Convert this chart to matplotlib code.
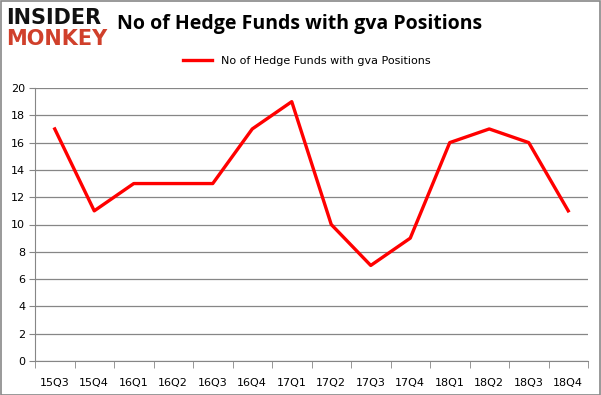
import matplotlib
matplotlib.use("Agg")
import matplotlib.pyplot as plt
from matplotlib.patches import Rectangle

categories = ["15Q3", "15Q4", "16Q1", "16Q2", "16Q3", "16Q4", "17Q1", "17Q2",
              "17Q3", "17Q4", "18Q1", "18Q2", "18Q3", "18Q4"]
values = [17, 11, 13, 13, 13, 17, 19, 10, 7, 9, 16, 17, 16, 11]
yticks = [0, 2, 4, 6, 8, 10, 12, 14, 16, 18, 20]
series_name = "No of Hedge Funds with gva Positions"
title = "No of Hedge Funds with gva Positions"

fig = plt.figure(figsize=(6.01, 3.95), dpi=100)
fig.patches.append(Rectangle((0.001, 0.001), 0.997, 0.996, transform=fig.transFigure,
                             fill=False, edgecolor="#888888", linewidth=1.2))

ax = fig.add_axes([35/601, 1 - 361/395, (588 - 35)/601, (361 - 88)/395])
x = list(range(len(categories)))
ax.plot(x, values, color="#ff0000", linewidth=2.4, label=series_name)
ax.set_xlim(-0.5, len(categories) - 0.5)
ax.set_ylim(0, 20)
ax.set_yticks(yticks)
ax.set_yticklabels([str(v) for v in yticks], fontsize=8, family="DejaVu Sans")
ax.set_xticks(x)
ax.set_xticklabels(categories, fontsize=8, family="DejaVu Sans")
ax.tick_params(axis="x", length=0, pad=12)
ax.set_xticks([i - 0.5 for i in range(len(categories) + 1)], minor=True)
ax.tick_params(axis="x", which="minor", length=5, color="#868686", direction="out")
ax.tick_params(axis="y", length=4, color="#868686", pad=3)
ax.grid(axis="y", color="#868686", linewidth=0.9)
ax.set_axisbelow(True)
for s in ["top", "right"]:
    ax.spines[s].set_visible(False)
ax.spines["left"].set_color("#868686")
ax.spines["bottom"].set_color("#868686")

leg = fig.legend(loc="center", bbox_to_anchor=(0.5 + 0.01, 1 - 61/395), frameon=False,
                 fontsize=8, handlelength=2.6)
fig.text(300/601, 1 - 24/395, title, ha="center", va="center", fontsize=14,
         fontweight="bold", family="Open Sans")
fig.text(6/601, 1 - 18/395, "INSIDER", ha="left", va="center", fontsize=15,
         fontweight="black", family="DejaVu Sans", color="#111111")
fig.text(6/601, 1 - 39/395, "MONKEY", ha="left", va="center", fontsize=15,
         fontweight="black", family="DejaVu Sans", color="#d0402b")

fig.savefig("out.png", dpi=100)
